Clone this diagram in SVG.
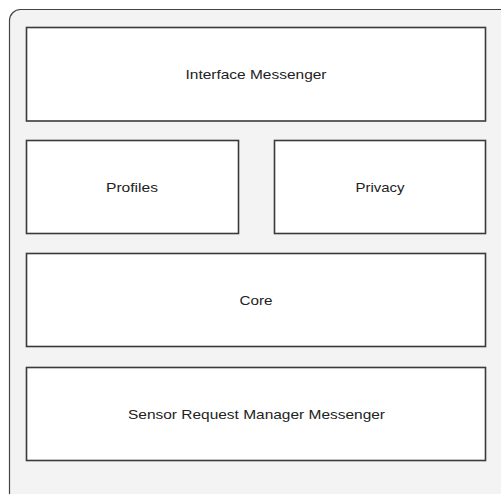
<svg xmlns="http://www.w3.org/2000/svg" width="501" height="494" viewBox="0 0 501 494">
  <style>
    .frame { fill: #f3f3f3; stroke: #444; stroke-width: 1.2; }
    .box { fill: #ffffff; stroke: #3a3a3a; stroke-width: 1.6; }
    .label { font-family: "Liberation Sans", Arial, sans-serif; font-size: 13.3px; fill: #222; text-anchor: middle; dominant-baseline: central; }
  </style>
  <rect width="501" height="494" fill="#ffffff"/>
  <!-- outer container, runs off the right and bottom edges -->
  <rect class="frame" x="9.5" y="9.5" width="520" height="520" rx="11" ry="11"/>

  <g id="interface-messenger">
    <rect class="box" x="26.5" y="27.5" width="459" height="93.5"/>
    <text class="label" x="256" y="74" textLength="141" lengthAdjust="spacingAndGlyphs">Interface Messenger</text>
  </g>
  <g id="profiles">
    <rect class="box" x="26.5" y="140.5" width="212" height="93"/>
    <text class="label" x="132" y="187" textLength="52" lengthAdjust="spacingAndGlyphs">Profiles</text>
  </g>
  <g id="privacy">
    <rect class="box" x="274.5" y="140.5" width="211" height="93"/>
    <text class="label" x="380" y="187" textLength="49" lengthAdjust="spacingAndGlyphs">Privacy</text>
  </g>
  <g id="core">
    <rect class="box" x="26.5" y="253.5" width="459" height="93"/>
    <text class="label" x="256" y="300" textLength="33" lengthAdjust="spacingAndGlyphs">Core</text>
  </g>
  <g id="sensor-request-manager-messenger">
    <rect class="box" x="26.5" y="367.5" width="459" height="93"/>
    <text class="label" x="256.5" y="414" textLength="257" lengthAdjust="spacingAndGlyphs">Sensor Request Manager Messenger</text>
  </g>
  <g id="connectors"/>
</svg>
